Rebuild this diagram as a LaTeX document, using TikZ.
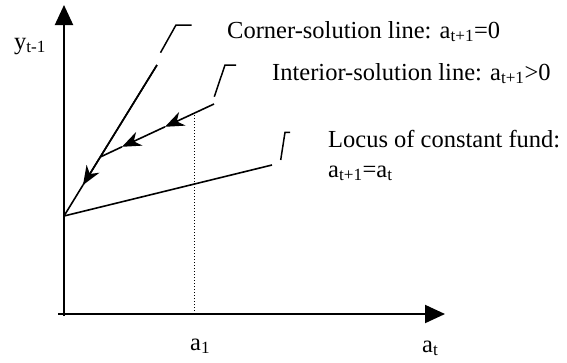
\documentclass[tikz,border=0pt]{standalone}
\usepackage{fontspec}
\setmainfont{Liberation Serif}
\usetikzlibrary{arrows.meta}
\begin{document}
\begin{tikzpicture}[x=1pt,y=-1pt,
  axis/.style={line width=2pt,-{Triangle[length=20pt,width=18pt]}},
  curve/.style={line width=1.6pt},
  flow/.style={line width=1.6pt,-{Stealth[length=19pt,width=15pt,inset=6pt]}},
  leader/.style={line width=1.5pt},
  lbl/.style={inner sep=0pt,anchor=base west,font=\fontsize{24.5}{29}\selectfont},
  tick/.style={inner sep=0pt,anchor=base,font=\fontsize{24.5}{29}\selectfont}]
\useasboundingbox (0,0) rectangle (567,362);
% key points
\coordinate (O) at (64,216);
\coordinate (Ctop) at (157,65);
\coordinate (Cmid) at (83,185);
\coordinate (Itop) at (214,104);
\coordinate (Ia) at (165,126.8);
\coordinate (Ib) at (122,146.8);
\coordinate (Ijoin) at (100.3,157);
\coordinate (Lend) at (272,165);
\coordinate (D0) at (194,314);
\coordinate (D1) at (194,113.3);
% axes
\coordinate (Yb) at (64,316);
\coordinate (Yt) at (64,5);
\coordinate (Xl) at (58,314);
\coordinate (Xr) at (445,314);
\draw[axis] (Yb) -- (Yt);
\draw[axis] (Xl) -- (Xr);
% dotted line
\draw[line width=1pt,dotted] (D0) -- (D1);
% corner line
\draw[curve] (Ctop) -- (Cmid);
\draw[flow] (Ctop) -- (Cmid);
\draw[curve] (Cmid) -- (O);
% interior line
\draw[flow] (Itop) -- (Ia);
\draw[flow] (Ia) -- (Ib);
\draw[curve] (Ib) -- (Ijoin);
% locus line
\draw[curve] (O) -- (Lend);
% leaders
\coordinate (c1) at (160.5,52.7); \coordinate (c2) at (176,25); \coordinate (c3) at (191.7,25);
\coordinate (i1) at (214.3,96.7); \coordinate (i2) at (225,65); \coordinate (i3) at (236,65);
\coordinate (l1) at (280.7,160); \coordinate (l2) at (285,132.3); \coordinate (l3) at (290,132.3);
\draw[leader] (c1) -- (c2) -- (c3);
\draw[leader] (i1) -- (i2) -- (i3);
\draw[leader] (l1) -- (l2) -- (l3);
% labels
\node[lbl] (tc) at (227,38) {Corner-solution line: a\textsubscript{t+1}=0};
\node[lbl] (ti) at (272,80) {Interior-solution line: a\textsubscript{t+1}>0};
\node[lbl] (tl1) at (328,147) {Locus of constant fund:};
\node[lbl] (tl2) at (328,177) {a\textsubscript{t+1}=a\textsubscript{t}};
\node[lbl] (ty) at (14,49) {y\textsubscript{t-1}};
\node[lbl] (ta1) at (190,350) {a\textsubscript{1}};
\node[lbl] (tat) at (422,352) {a\textsubscript{t}};
\end{tikzpicture}
\end{document}
